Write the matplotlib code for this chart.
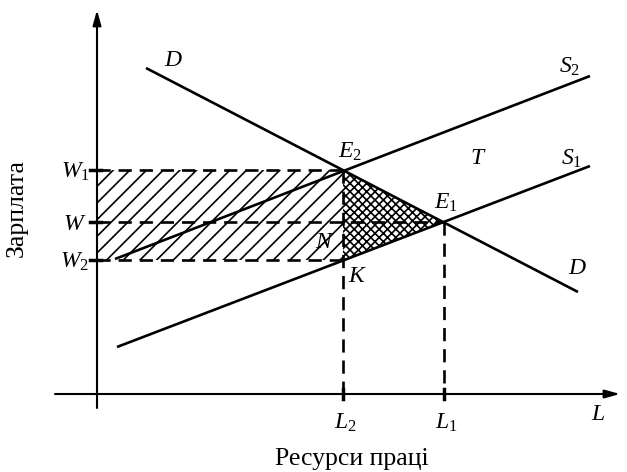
import matplotlib.pyplot as plt
from matplotlib.patches import Rectangle, Polygon

plt.rcParams['mathtext.fontset'] = 'custom'
plt.rcParams['mathtext.rm'] = 'Liberation Serif'
plt.rcParams['mathtext.it'] = 'Liberation Serif:italic'
plt.rcParams['font.family'] = ['Liberation Serif', 'DejaVu Serif']
plt.rcParams['hatch.linewidth'] = 1.2

# schematic in picture units (x right, y down)
origin = (97, 394)
demand_x = [146, 578]
demand_y = [68, 292]
supply1_x = [117, 590]
supply1_y = [347, 166]
supply2_x = [115, 590]
supply2_y = [259, 76]

wage_levels = [170, 222, 260]          # W1, W, W2
wage_labels = [r'$W_1$', r'$W$', r'$W_2$']
labour_levels = [343, 444]             # L2, L1
labour_labels = [r'$L_2$', r'$L_1$']

E2 = (343, 170)
E1 = (444, 222)
K = (343, 260)

fig = plt.figure(figsize=(6.27, 4.72), dpi=100)
ax = fig.add_axes([0, 0, 1, 1])
ax.set_xlim(0, 627)
ax.set_ylim(472, 0)
ax.axis('off')

lw = 1.9
dash = (0, (5, 3))

# hatched areas
ax.add_patch(Rectangle((origin[0], wage_levels[0]), labour_levels[0] - origin[0],
                       wage_levels[2] - wage_levels[0], facecolor='none',
                       edgecolor='black', linewidth=0, hatch='//'))
ax.add_patch(Polygon([E2, E1, K], closed=True, facecolor='none',
                     edgecolor='black', linewidth=0, hatch='xxxx'))

# axes with arrows
ax.annotate('', xy=(origin[0], 10), xytext=(origin[0], 408),
            arrowprops=dict(arrowstyle='-|>,head_length=0.9,head_width=0.25',
                            lw=1.5, color='black', shrinkA=0, shrinkB=0))
ax.annotate('', xy=(620, origin[1]), xytext=(55, origin[1]),
            arrowprops=dict(arrowstyle='-|>,head_length=0.9,head_width=0.25',
                            lw=1.5, color='black', shrinkA=0, shrinkB=0))

# curves
ax.plot(demand_x, demand_y, color='black', lw=lw, solid_capstyle='butt')
ax.plot(supply1_x, supply1_y, color='black', lw=lw, solid_capstyle='butt')
ax.plot(supply2_x, supply2_y, color='black', lw=lw, solid_capstyle='butt')

# dashed guides
ax.plot([origin[0], E2[0]], [wage_levels[0]] * 2, color='black', lw=lw, ls=dash)
ax.plot([origin[0], E1[0]], [wage_levels[1]] * 2, color='black', lw=lw, ls=dash)
ax.plot([origin[0], K[0]], [wage_levels[2]] * 2, color='black', lw=lw, ls=dash)
ax.plot([labour_levels[0]] * 2, [E2[1], origin[1]], color='black', lw=lw, ls=dash)
ax.plot([labour_levels[1]] * 2, [E1[1], origin[1]], color='black', lw=lw, ls=dash)

# ticks
for w in wage_levels:
    ax.plot([origin[0] - 7, origin[0] + 4], [w, w], color='black', lw=2.5)
for l in labour_levels:
    ax.plot([l, l], [origin[1] - 5, origin[1] + 5], color='black', lw=2.5)

fs = 17
for w, lab in zip(wage_levels, wage_labels):
    ax.text(75, w + 2, lab, fontsize=fs, ha='center', va='center')
for l, lab in zip(labour_levels, labour_labels):
    ax.text(l + 2, 423, lab, fontsize=fs, ha='center', va='center')

ax.text(598, 414, r'$L$', fontsize=fs, ha='center', va='center')
ax.text(173, 61, r'$D$', fontsize=fs, ha='center', va='center')
ax.text(577, 268, r'$D$', fontsize=fs, ha='center', va='center')
ax.text(570, 67, r'$S_2$', fontsize=fs, ha='center', va='center')
ax.text(572, 159, r'$S_1$', fontsize=fs, ha='center', va='center')
ax.text(478, 158, r'$T$', fontsize=fs, ha='center', va='center')
ax.text(350, 152, r'$E_2$', fontsize=fs, ha='center', va='center')
ax.text(446, 203, r'$E_1$', fontsize=fs, ha='center', va='center')
ax.text(325, 242, r'$N$', fontsize=fs, ha='center', va='center')
ax.text(358, 277, r'$K$', fontsize=fs, ha='center', va='center')

ax.text(352, 459, 'Ресурси праці', fontsize=18.5, ha='center', va='center')
ax.text(17, 208, 'Зарплата', fontsize=18.5, ha='center', va='center', rotation=90)

fig.savefig('out.png', dpi=100)
